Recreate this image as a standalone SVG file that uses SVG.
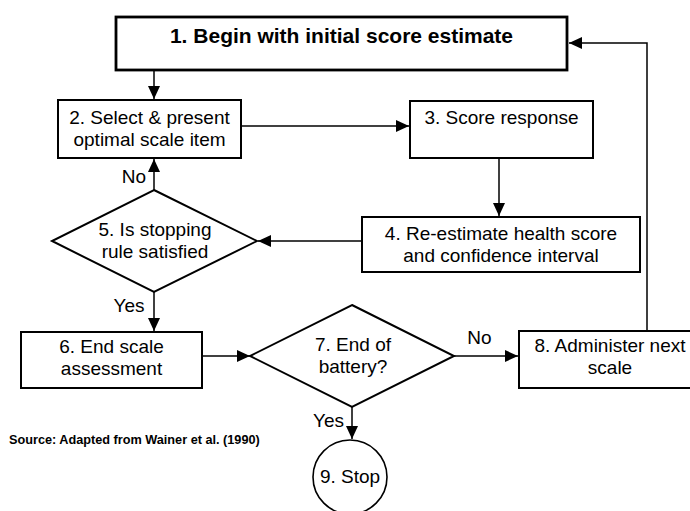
<svg xmlns="http://www.w3.org/2000/svg" width="690" height="511" viewBox="0 0 690 511">
<style>
  text { font-family: "Liberation Sans", Arial, sans-serif; font-size: 19px; fill: #000; text-anchor: middle; }
  .title { font-weight: bold; font-size: 21px; }
  .src { font-weight: bold; font-size: 12.7px; text-anchor: start; }
  .box { fill: #fff; stroke: #000; stroke-width: 2; }
  .box1 { fill: #fff; stroke: #000; stroke-width: 2.8; }
  .circ { fill: #fff; stroke: #000; stroke-width: 1.6; }
  .conn { fill: none; stroke: #000; stroke-width: 1.5; marker-end: url(#arr); }
</style>
<defs>
  <marker id="arr" markerUnits="userSpaceOnUse" markerWidth="13" markerHeight="12" refX="13" refY="6" orient="auto" viewBox="0 0 13 12">
    <path d="M0,0 L13,6 L0,12 z" fill="#000"/>
  </marker>
</defs>
<rect width="690" height="511" fill="#fff"/>
<g id="connectors">
  <line class="conn" x1="154" y1="70" x2="154" y2="99"/>
  <line class="conn" x1="241" y1="126" x2="409" y2="126"/>
  <line class="conn" x1="499" y1="158" x2="499" y2="216"/>
  <line class="conn" x1="362" y1="241" x2="258" y2="241"/>
  <line class="conn" x1="154" y1="190" x2="154" y2="159"/>
  <line class="conn" x1="154" y1="292" x2="154" y2="331"/>
  <line class="conn" x1="202" y1="356" x2="250" y2="356"/>
  <line class="conn" x1="454" y1="356" x2="518" y2="356"/>
  <line class="conn" x1="352" y1="407" x2="352" y2="439"/>
  <polyline class="conn" points="647,331 647,43 569,43"/>
</g>
<g id="node1">
  <rect class="box1" x="116" y="17" width="451" height="53"/>
  <text class="title" x="341.5" y="43">1. Begin with initial score estimate</text>
</g>
<g id="node2">
  <rect class="box" x="58" y="100" width="183" height="58"/>
  <text x="149.5" y="124">2. Select &amp; present</text>
  <text x="149.5" y="146">optimal scale item</text>
</g>
<g id="node3">
  <rect class="box" x="410" y="101" width="183" height="57"/>
  <text x="501.5" y="124">3. Score response</text>
</g>
<g id="node4">
  <rect class="box" x="362" y="217" width="278" height="55"/>
  <text x="501" y="240">4. Re-estimate health score</text>
  <text x="501" y="262">and confidence interval</text>
</g>
<g id="node5">
  <polygon class="box" points="154,190 257,241 154,292 52,241"/>
  <text x="155" y="236">5. Is stopping</text>
  <text x="155" y="258">rule satisfied</text>
</g>
<g id="node6">
  <rect class="box" x="21" y="332" width="181" height="56"/>
  <text x="111.5" y="353">6. End scale</text>
  <text x="111.5" y="375">assessment</text>
</g>
<g id="node7">
  <polygon class="box" points="352,305 454,356 352,407 250,356"/>
  <text x="353" y="351">7. End of</text>
  <text x="353" y="373">battery?</text>
</g>
<g id="node8">
  <rect class="box" x="519" y="331" width="174" height="57"/>
  <text x="610" y="352">8. Administer next</text>
  <text x="610" y="374">scale</text>
</g>
<g id="node9">
  <circle class="circ" cx="350" cy="477" r="37"/>
  <text x="350" y="483">9. Stop</text>
</g>
<g id="labels">
  <text x="134" y="183">No</text>
  <text x="129" y="312">Yes</text>
  <text x="479.5" y="344">No</text>
  <text x="328.5" y="427">Yes</text>
  <text class="src" x="9" y="444">Source: Adapted from Wainer et al. (1990)</text>
</g>
</svg>
